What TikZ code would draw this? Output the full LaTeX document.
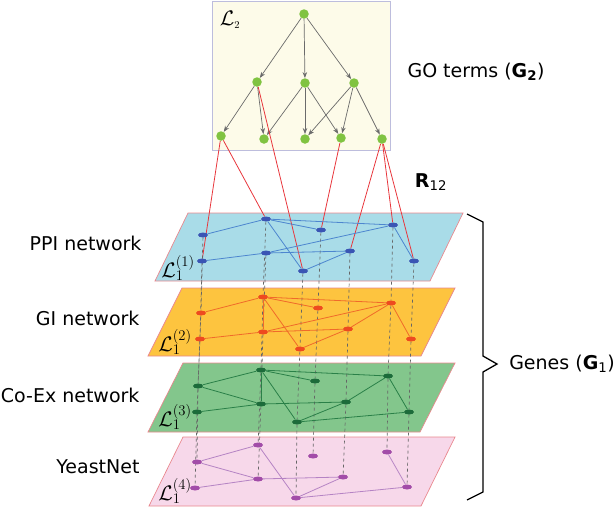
\RequirePackage{fix-cm}
\documentclass[tikz,border=0pt]{standalone}
\usepackage{fontspec}
\setmainfont{DejaVu Sans}
\usetikzlibrary{shapes.geometric}
\usetikzlibrary{arrows.meta}

\definecolor{goback}{HTML}{FDFBE9}
\definecolor{gobord}{HTML}{BDBDDD}
\definecolor{gonode}{HTML}{80C341}
\definecolor{isagray}{HTML}{6B6B6B}
\definecolor{assocred}{HTML}{E8363C}
\definecolor{planebord}{HTML}{E9888E}
\definecolor{dashgray}{HTML}{666666}
\definecolor{ppiback}{HTML}{A9DCE8}
\definecolor{ppinode}{HTML}{3A55B4}
\definecolor{ppiedge}{HTML}{4D86CF}
\definecolor{giback}{HTML}{FDC43F}
\definecolor{ginode}{HTML}{EE4A1F}
\definecolor{giedge}{HTML}{F06A2A}
\definecolor{coback}{HTML}{83C68C}
\definecolor{conode}{HTML}{1C6B3A}
\definecolor{coedge}{HTML}{2A8048}
\definecolor{yback}{HTML}{F7D8EA}
\definecolor{ynode}{HTML}{A24CA8}
\definecolor{yedge}{HTML}{B583C4}

\pgfdeclarelayer{planes}
\pgfdeclarelayer{links}
\pgfsetlayers{planes,links,main}

\tikzset{
  layertext/.style={font=\fontsize{19}{23}\selectfont},
  layername/.style={font=\fontsize{21}{25}\selectfont,inner sep=0pt},
  goterm/.style={circle,fill=gonode,inner sep=0pt,minimum size=9.5pt},
  gene/.style={ellipse,inner sep=0pt,minimum width=10pt,minimum height=5pt},
  isa/.style={draw=isagray,line width=0.7pt,-{Stealth[length=6pt,width=4.5pt]}},
  assoc/.style={draw=assocred,line width=0.8pt},
  aligned/.style={draw=dashgray,line width=0.7pt,dash pattern=on 3pt off 3pt},
  plane/.style={draw=planebord,line width=0.7pt},
}

\begin{document}
\begin{tikzpicture}[x=1pt,y=-1pt]
  \useasboundingbox (0,0) rectangle (616,507);

  % GO term hierarchy
  \node[goterm] (root) at (304,14) {};
  \node[goterm] (m1) at (257,82) {};
  \node[goterm] (m2) at (305,83) {};
  \node[goterm] (m3) at (354,83) {};
  \node[goterm] (l1) at (221,136) {};
  \node[goterm] (l2) at (264,139) {};
  \node[goterm] (l3) at (305,139) {};
  \node[goterm] (l4) at (341,138) {};
  \node[goterm] (l5) at (382,139) {};
  \node[layername] (lgo) at (230,20) {$\mathcal{L}_{\scriptscriptstyle 2}$};
  \node[layertext] (goterms) at (476,72) {GO terms (\textbf{G\textsubscript{2}})};

  % gene networks
  \foreach \n/\x/\y in {1/203/235,2/266/219,3/321/230,4/393/225,5/202/261,6/266/253,7/350/251,8/303/271,9/414/261}
    \node[gene,fill=ppinode] (p\n) at (\x,\y) {};
  \foreach \n/\x/\y in {1/201/313,2/263/297,3/318/308,4/391/303,5/200/339,6/263/332,7/348/329,8/300/349,9/411/339}
    \node[gene,fill=ginode] (g\n) at (\x,\y) {};
  \foreach \n/\x/\y in {1/198/386,2/261/370,3/315/381,4/388/376,5/197/412,6/261/404,7/346/402,8/297/422,9/409/412}
    \node[gene,fill=conode] (c\n) at (\x,\y) {};
  \foreach \n/\x/\y in {1/197/462,2/258/445,3/313/456,4/387/452,5/195/488,6/258/479,7/343/477,8/296/498,9/407/487}
    \node[gene,fill=ynode] (y\n) at (\x,\y) {};

  \node[layername] (lppi) at (178,268) {$\mathcal{L}_1^{(1)}$};
  \node[layername] (lgi) at (175,342) {$\mathcal{L}_1^{(2)}$};
  \node[layername] (lco) at (175,417) {$\mathcal{L}_1^{(3)}$};
  \node[layername] (lyn) at (175,491) {$\mathcal{L}_1^{(4)}$};

  \node[layertext,anchor=east] (ppi) at (145,243) {PPI network};
  \node[layertext,anchor=east] (gi) at (143,318) {GI network};
  \node[layertext,anchor=east] (coex) at (143,395) {Co-Ex network};
  \node[layertext,anchor=east] (yeast) at (143,467) {YeastNet};

  \node[layertext] (r12) at (431,182) {\textbf{R}\textsubscript{12}};
  \node[layertext] (genes) at (562,364) {Genes (\textbf{G}\textsubscript{1})};

  \begin{pgfonlayer}{planes}
    \filldraw[draw=gobord,fill=goback,line width=0.8pt] (212,1) rectangle (390,150);
    \filldraw[plane,fill=ppiback] (155,281) -- (430,281) -- (463,213) -- (188,213) -- cycle;
    \filldraw[plane,fill=giback] (148,356) -- (421,356) -- (455,288) -- (182,288) -- cycle;
    \filldraw[plane,fill=coback] (148,432) -- (420,432) -- (455,363) -- (183,363) -- cycle;
    \filldraw[plane,fill=yback] (149,506) -- (421,506) -- (455,437) -- (183,437) -- cycle;
  \end{pgfonlayer}

  \begin{pgfonlayer}{links}
    \foreach \a/\b in {root/m1,root/m2,root/m3,m1/l1,m1/l2,m2/l2,m2/l3,m2/l4,m3/l3,m3/l4,m3/l5}
      \draw[isa] (\a) -- (\b);
    \foreach \a/\b in {l1/p5,l1/p2,m1/p8,l4/p3,l5/p7,l5/p4,l5/p9}
      \draw[assoc] (\a) -- (\b);
    \foreach \n in {1,...,9} {
      \draw[aligned] (p\n) -- (g\n);
      \draw[aligned] (g\n) -- (c\n);
      \draw[aligned] (c\n) -- (y\n);
    }
    \foreach \a/\b in {1/2,2/3,2/4,2/8,4/6,5/6,6/7,7/8,4/9}
      \draw[ppiedge,line width=0.8pt] (p\a) -- (p\b);
    \foreach \a/\b in {1/2,2/3,2/4,2/6,2/8,5/6,6/7,6/4,7/4,7/8,4/9}
      \draw[giedge,line width=0.8pt] (g\a) -- (g\b);
    \foreach \a/\b in {1/2,1/6,2/3,2/4,2/6,2/8,5/6,6/7,7/4,7/8,8/9,4/9}
      \draw[coedge,line width=0.8pt] (c\a) -- (c\b);
    \foreach \a/\b in {1/2,1/6,2/8,5/6,6/7,7/8,8/9,4/9}
      \draw[yedge,line width=0.8pt] (y\a) -- (y\b);
  \end{pgfonlayer}

  % brace over the gene layers
  \draw[line width=1.3pt] (467,214) -- (483,222) -- (483,356) -- (497,364) -- (483,372) -- (483,492) -- (467,500);
\end{tikzpicture}
\end{document}
